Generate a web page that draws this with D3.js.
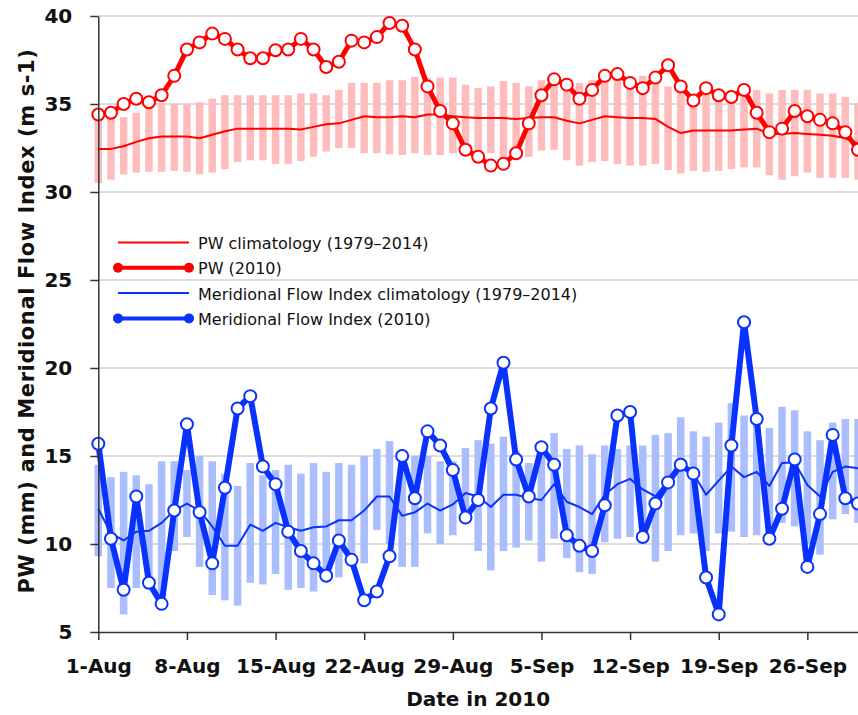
<!DOCTYPE html>
<html>
<head>
<meta charset="utf-8">
<script src="https://cdn.jsdelivr.net/npm/d3@7"></script>
<style>
  body { margin: 0; background: #fff; }
  svg { display: block; }
  .axis path, .axis line { stroke: #333; stroke-width: 1.5; }
  .axis text { font-family: "DejaVu Sans", sans-serif; font-weight: bold; font-size: 20px; fill: #111; }
  .grid line { stroke: #d2d2d2; stroke-width: 1.5; }
  .title { font-family: "DejaVu Sans", sans-serif; font-weight: bold; fill: #111; }
  .legend text { font-family: "DejaVu Sans", sans-serif; font-size: 16px; fill: #111; }
</style>
</head>
<body>
<div id="chart"></div>
<script>
// daily values, 1 Aug .. 30 Sep 2010 (61 days)
const startDate = "2010-08-01";

const pw2010 = [34.4, 34.5, 35.0, 35.3, 35.1, 35.5, 36.6, 38.1, 38.5, 39.0,
                38.7, 38.1, 37.6, 37.6, 38.05, 38.1, 38.7, 38.1, 37.1, 37.4,
                38.6, 38.5, 38.8, 39.6, 39.45, 38.1, 36.0, 34.6, 33.9, 32.4,
                32.0, 31.5, 31.6, 32.2, 33.9, 35.5, 36.4, 36.1, 35.3, 35.8,
                36.6, 36.7, 36.2, 35.9, 36.5, 37.2, 36.0, 35.2, 35.9, 35.5,
                35.4, 35.8, 34.5, 33.4, 33.6, 34.6, 34.3, 34.1, 33.9, 33.4, 32.4];

const pwClim = [32.45, 32.45, 32.6, 32.85, 33.05, 33.15, 33.15, 33.15, 33.05, 33.25,
                33.45, 33.6, 33.6, 33.6, 33.6, 33.6, 33.55, 33.7, 33.85, 33.9,
                34.1, 34.3, 34.25, 34.25, 34.3, 34.25, 34.4, 34.4, 34.3, 34.25,
                34.2, 34.2, 34.2, 34.15, 34.2, 34.25, 34.25, 34.05, 33.9, 34.1,
                34.3, 34.25, 34.2, 34.2, 34.15, 33.7, 33.35, 33.5, 33.5, 33.5,
                33.5, 33.55, 33.6, 33.3, 33.3, 33.35, 33.3, 33.25, 33.2, 33.05, 32.75];

const pwHigh = [34.3, 34.2, 34.25, 34.5, 35.05, 35.05, 35.0, 35.0, 35.1, 35.3,
                35.5, 35.5, 35.5, 35.5, 35.5, 35.5, 35.6, 35.6, 35.5, 35.8,
                36.2, 36.2, 36.2, 36.35, 36.35, 36.55, 36.5, 36.5, 36.5, 36.1,
                35.9, 36.0, 36.3, 36.2, 36.0, 36.35, 36.35, 36.0, 36.2, 36.35,
                36.35, 36.7, 36.45, 36.6, 36.35, 36.0, 35.95, 35.4, 35.7, 35.65,
                35.6, 35.65, 35.8, 35.6, 35.8, 35.8, 35.8, 35.6, 35.6, 35.4, 35.05];

const pwLow = [30.5, 30.7, 31.0, 31.1, 31.15, 31.15, 31.2, 31.15, 31.0, 31.1,
               31.3, 31.7, 31.8, 31.8, 31.6, 31.6, 31.75, 32.0, 32.3, 32.5,
               32.5, 32.2, 32.2, 32.15, 32.1, 32.2, 32.1, 32.1, 32.2, 32.2,
               32.0, 32.2, 31.9, 32.3, 32.0, 32.35, 32.4, 31.8, 31.5, 31.7,
               31.75, 31.6, 31.5, 31.5, 31.6, 31.25, 31.05, 31.2, 31.15, 31.2,
               31.3, 31.4, 31.4, 30.95, 30.7, 30.9, 31.1, 30.8, 30.8, 30.8, 30.7];

const mfi2010 = [15.7, 10.3, 7.4, 12.7, 7.8, 6.6, 11.9, 16.8, 11.8, 8.9,
                 13.2, 17.7, 18.4, 14.4, 13.4, 10.7, 9.6, 8.9, 8.2, 10.2,
                 9.1, 6.8, 7.3, 9.3, 15.0, 12.6, 16.4, 15.6, 14.2, 11.5,
                 12.5, 17.7, 20.3, 14.8, 12.7, 15.5, 14.5, 10.5, 9.9, 9.6,
                 12.2, 17.3, 17.5, 10.4, 12.3, 13.5, 14.5, 14.0, 8.1, 6.0,
                 15.6, 22.6, 17.1, 10.3, 12.0, 14.8, 8.7, 11.7, 16.2, 12.6, 12.3];

const mfiClim = [12.0, 10.6, 10.2, 10.7, 10.75, 11.2, 11.9, 12.3, 11.9, 11.0,
                 9.9, 9.9, 11.1, 10.75, 11.2, 10.95, 10.75, 10.95, 11.0, 11.35,
                 11.35, 11.9, 12.7, 12.7, 11.6, 11.8, 12.3, 11.9, 12.25, 12.9,
                 12.7, 12.1, 12.8, 12.8, 12.6, 12.5, 13.4, 12.4, 12.1, 11.7,
                 12.8, 13.4, 13.7, 13.1, 12.7, 13.6, 14.4, 14.0, 12.8, 13.6,
                 14.4, 13.8, 14.1, 13.3, 14.6, 14.65, 13.35, 12.7, 14.1, 14.4, 14.3];

const mfiHigh = [14.5, 13.8, 14.1, 13.9, 13.4, 14.7, 14.7, 14.2, 15.0, 14.7,
                 14.0, 13.3, 14.6, 13.9, 14.2, 14.5, 14.0, 14.6, 14.1, 14.6,
                 14.5, 15.0, 15.4, 15.85, 15.0, 15.0, 15.0, 14.7, 14.7, 15.45,
                 15.9, 15.7, 16.1, 15.3, 14.6, 15.2, 16.3, 15.4, 15.6, 15.1,
                 15.6, 15.4, 15.6, 15.6, 16.2, 16.3, 17.2, 16.4, 16.1, 16.9,
                 18.0, 17.3, 17.2, 16.6, 17.8, 17.6, 16.4, 15.9, 16.9, 17.1, 17.1];

const mfiLow = [9.3, 7.5, 6.0, 7.5, 7.6, 7.0, 9.6, 10.4, 8.7, 7.1,
                6.8, 6.5, 7.8, 7.7, 8.3, 7.4, 7.5, 7.3, 8.0, 8.1,
                8.85, 8.9, 10.8, 10.0, 8.7, 8.7, 10.6, 10.0, 10.5, 11.3,
                9.6, 8.5, 9.6, 9.8, 10.2, 9.0, 10.3, 9.2, 8.4, 8.3,
                10.1, 10.3, 10.4, 10.2, 9.0, 9.6, 10.5, 10.6, 9.6, 10.6,
                10.7, 10.4, 10.5, 10.5, 11.2, 11.0, 10.0, 9.4, 11.4, 11.7, 11.2];

const xTickLabels = ["1-Aug", "8-Aug", "15-Aug", "22-Aug", "29-Aug",
                     "5-Sep", "12-Sep", "19-Sep", "26-Sep"];
const yTicks = [5, 10, 15, 20, 25, 30, 35, 40];

const legendItems = [
  { label: "PW climatology (1979\u20132014)", color: "#ff0000", thick: false },
  { label: "PW (2010)", color: "#ff0000", thick: true },
  { label: "Meridional Flow Index climatology (1979\u20132014)", color: "#0a32ff", thick: false },
  { label: "Meridional Flow Index (2010)", color: "#0a32ff", thick: true }
];

const W = 858, H = 715;
const plotL = 98.3, plotR = 858, plotT = 16, plotB = 632;

const parseDay = d3.utcParse("%Y-%m-%d");
const parseTick = d3.utcParse("%d-%b-%Y");
const day0 = parseDay(startDate);
const dates = pw2010.map((v, i) => d3.utcDay.offset(day0, i));

const x = d3.scaleUtc()
      .domain([dates[0], dates[dates.length - 1]])
      .range([plotL, plotR]);
const y = d3.scaleLinear().domain([5, 40]).range([plotB, plotT]);

const svg = d3.select("#chart")
      .append("svg")
      .attr("width", W)
      .attr("height", H);

// horizontal gridlines
svg.append("g")
  .attr("class", "grid")
  .selectAll("line")
  .data(yTicks.filter(v => v > 5))
  .join("line")
  .attr("x1", plotL).attr("x2", plotR)
  .attr("y1", y).attr("y2", y);

const barW = 7.5;
const drawBars = (high, low, color) => {
  svg.append("g")
    .selectAll("rect")
    .data(dates)
    .join("rect")
    .attr("x", d => x(d) - barW / 2)
    .attr("width", barW)
    .attr("y", (d, i) => y(high[i]))
    .attr("height", (d, i) => y(low[i]) - y(high[i]))
    .attr("fill", color);
};

const line = d3.line()
      .x(d => x(d[0]))
      .y(d => y(d[1]));

const drawLine = (values, color, width) => {
  svg.append("path")
    .datum(d3.zip(dates, values))
    .attr("fill", "none")
    .attr("stroke", color)
    .attr("stroke-width", width)
    .attr("stroke-linejoin", "round")
    .attr("d", line);
};

const drawDots = (values, color) => {
  svg.append("g")
    .selectAll("circle")
    .data(d3.zip(dates, values))
    .join("circle")
    .attr("cx", d => x(d[0]))
    .attr("cy", d => y(d[1]))
    .attr("r", 6)
    .attr("fill", "#fff")
    .attr("stroke", color)
    .attr("stroke-width", 2);
};

drawBars(pwHigh, pwLow, "#ffbcbc");
drawBars(mfiHigh, mfiLow, "#aabdff");
drawLine(pwClim, "#ff0000", 2);
drawLine(mfiClim, "#0a32ff", 2);
drawLine(pw2010, "#ff0000", 5);
drawDots(pw2010, "#ff0000");
drawLine(mfi2010, "#0a32ff", 6);
drawDots(mfi2010, "#0a32ff");

// axes
const xTicks = xTickLabels.map(s => parseTick(s + "-2010"));
const fmt = d3.utcFormat("%-d-%b");

svg.append("g")
  .attr("class", "axis")
  .attr("transform", `translate(0, ${plotB})`)
  .call(d3.axisBottom(x)
        .tickValues(xTicks)
        .tickFormat(fmt)
        .tickSize(8)
        .tickSizeOuter(0)
        .tickPadding(19));

svg.append("g")
  .attr("class", "axis")
  .attr("transform", `translate(${plotL}, 0)`)
  .call(d3.axisLeft(y)
        .tickValues(yTicks)
        .tickSize(8)
        .tickSizeOuter(0)
        .tickPadding(18));

svg.append("text")
  .attr("class", "title")
  .attr("x", (plotL + plotR) / 2)
  .attr("y", 706)
  .attr("text-anchor", "middle")
  .attr("font-size", 20)
  .text("Date in 2010");

svg.append("text")
  .attr("class", "title")
  .attr("transform", "translate(34, 321) rotate(-90)")
  .attr("text-anchor", "middle")
  .attr("font-size", 21)
  .attr("letter-spacing", 0.6)
  .text("PW (mm) and Meridional Flow Index (m s-1)");

// legend
const legend = svg.append("g")
      .attr("class", "legend")
      .selectAll("g")
      .data(legendItems)
      .join("g")
      .attr("transform", (d, i) => `translate(118, ${242.5 + i * 25.3})`);

legend.append("line")
  .attr("x1", 0).attr("x2", 71)
  .attr("stroke", d => d.color)
  .attr("stroke-width", d => d.thick ? 4 : 2);

legend.filter(d => d.thick)
  .selectAll("circle")
  .data(d => [0, 71].map(cx => ({ cx, color: d.color })))
  .join("circle")
  .attr("cx", d => d.cx)
  .attr("r", 5)
  .attr("fill", d => d.color);

legend.append("text")
  .attr("x", 80)
  .attr("y", 2)
  .attr("dominant-baseline", "middle")
  .text(d => d.label);
</script>
</body>
</html>
